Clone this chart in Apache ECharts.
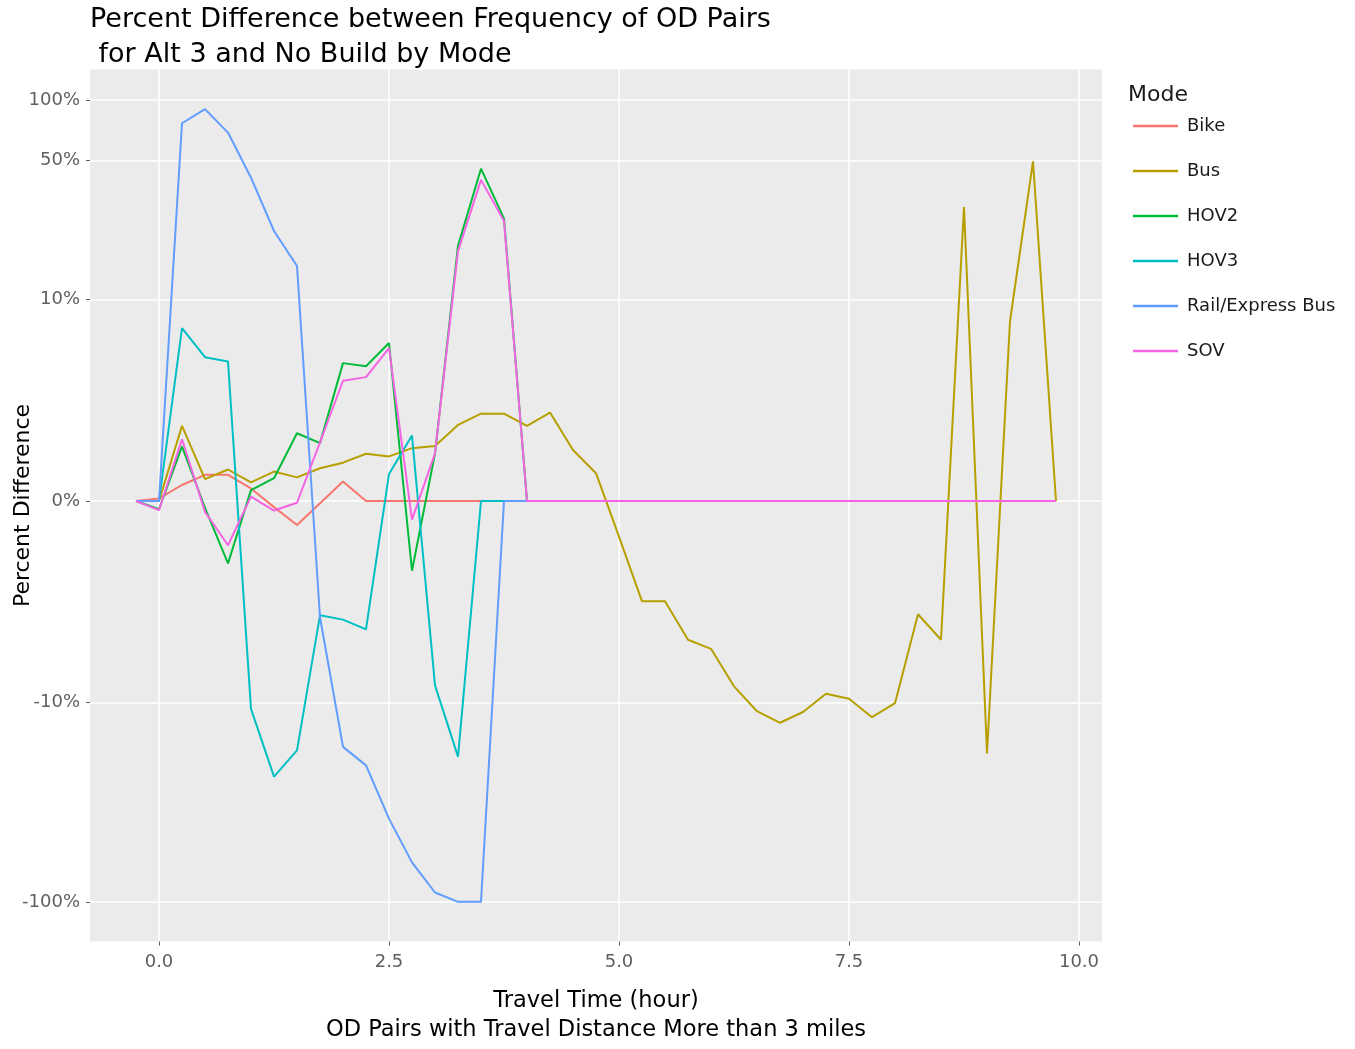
<!DOCTYPE html>
<html>
<head>
<meta charset="utf-8">
<title>Percent Difference by Mode</title>
<script src="https://cdn.jsdelivr.net/npm/echarts@6/dist/echarts.min.js"></script>
<style>
  html, body { margin: 0; padding: 0; background: #ffffff; }
  #chart { width: 1355px; height: 1049px; }
</style>
</head>
<body>
<div id="chart"></div>
<script>
// Travel time bins (hours)
const travelTime = [-0.25, 0, 0.25, 0.5, 0.75, 1.0, 1.25, 1.5, 1.75, 2.0,
  2.25, 2.5, 2.75, 3.0, 3.25, 3.5, 3.75, 4.0, 4.25, 4.5,
  4.75, 5.0, 5.25, 5.5, 5.75, 6.0, 6.25, 6.5, 6.75, 7.0,
  7.25, 7.5, 7.75, 8.0, 8.25, 8.5, 8.75, 9.0, 9.25, 9.5, 9.75];

// Percent difference (Alt 3 vs No Build) per mode, one value per bin
const bike = [0, 0.06, 0.37, 0.61, 0.61, 0.29, -0.14, -0.56, -0.05, 0.45,
  0, 0, 0, 0, 0, 0, 0, 0, 0, 0,
  0, 0, 0, 0, 0, 0, 0, 0, 0, 0,
  0, 0, 0, 0, 0, 0, 0, 0, 0, 0, 0];
const bus = [0, 0, 1.95, 0.51, 0.74, 0.43, 0.69, 0.55, 0.77, 0.91,
  1.14, 1.07, 1.29, 1.35, 1.98, 2.36, 2.36, 1.95, 2.40, 1.24,
  0.65, -0.84, -2.85, -2.85, -4.72, -5.28, -8.29, -11.1, -12.7, -11.2,
  -9.05, -9.6, -11.9, -10.1, -3.4, -4.72, 29.3, -18.1, 7.76, 49.5, 0];
const hov2 = [0, -0.19, 1.34, -0.16, -1.56, 0.25, 0.53, 1.72, 1.43, 4.67,
  4.49, 5.98, -1.78, 1.15, 18.7, 45.5, 25.6, 0, 0, 0,
  0, 0, 0, 0, 0, 0, 0, 0, 0, 0,
  0, 0, 0, 0, 0, 0, 0, 0, 0, 0, 0];
const hov3 = [0, 0, 7.16, 5.03, 4.77, -10.8, -23.7, -17.5, -3.45, -3.65,
  -4.14, 0.63, 1.65, -8.2, -18.8, 0, 0, 0, 0, 0,
  0, 0, 0, 0, 0, 0, 0, 0, 0, 0,
  0, 0, 0, 0, 0, 0, 0, 0, 0, 0, 0];
const railExpressBus = [0, 0, 76.7, 90.2, 68.9, 41.0, 22.2, 14.8, -3.54, -16.8,
  -20.8, -38.4, -63.5, -89.8, -100, -100, 0, 0, 0, 0,
  0, 0, 0, 0, 0, 0, 0, 0, 0, 0,
  0, 0, 0, 0, 0, 0, 0, 0, 0, 0, 0];
const sov = [0, -0.21, 1.54, -0.25, -1.06, 0.10, -0.22, -0.04, 1.45, 3.73,
  3.91, 5.62, -0.43, 1.15, 17.6, 40.0, 24.9, 0, 0, 0,
  0, 0, 0, 0, 0, 0, 0, 0, 0, 0,
  0, 0, 0, 0, 0, 0, 0, 0, 0, 0, 0];

const modes = ['Bike', 'Bus', 'HOV2', 'HOV3', 'Rail/Express Bus', 'SOV'];
const modeValues = [bike, bus, hov2, hov3, railExpressBus, sov];
const modeColors = ['#F8766D', '#B79F00', '#00BA38', '#00BFC4', '#619CFF', '#F564E3'];

const yTickValues = [-100, -10, 0, 10, 50, 100];
const yTickLabels = ['-100%', '-10%', '0%', '10%', '50%', '100%'];
const xTickValues = [0, 2.5, 5, 7.5, 10];
const xTickLabels = ['0.0', '2.5', '5.0', '7.5', '10.0'];

// Pseudo-log transform (sigma = 1, base 10), as used for the y scale
function pseudoLog(v) { return Math.asinh(v / 2) / Math.LN10; }

// Axis ranges with a 5% expansion on each side of the data
function expandedRange(lo, hi) {
  const pad = (hi - lo) * 0.05;
  return [lo - pad, hi + pad];
}
const allT = [].concat(...modeValues).map(pseudoLog);
const yRange = expandedRange(Math.min(...allT), Math.max(...allT));
const xRange = expandedRange(Math.min(...travelTime), Math.max(...travelTime));

const yTickPos = yTickValues.map(pseudoLog);
function yLabel(val) {
  let best = 0;
  yTickPos.forEach((p, i) => { if (Math.abs(p - val) < Math.abs(yTickPos[best] - val)) best = i; });
  return yTickLabels[best];
}
function xLabel(val) {
  let best = 0;
  xTickValues.forEach((p, i) => { if (Math.abs(p - val) < Math.abs(xTickValues[best] - val)) best = i; });
  return xTickLabels[best];
}

const FONT = 'DejaVu Sans';

const chart = echarts.init(document.getElementById('chart'), null, { renderer: 'canvas' });

chart.setOption({
  animation: false,
  backgroundColor: '#ffffff',
  title: [
    {
      text: 'Percent Difference between Frequency of OD Pairs\n for Alt 3 and No Build by Mode',
      left: 90,
      top: 2,
      padding: 0,
      textStyle: { fontFamily: FONT, fontSize: 27, fontWeight: 'normal', color: '#000000', lineHeight: 35 }
    },
    {
      text: 'Mode',
      left: 1128,
      top: 84,
      padding: 0,
      textStyle: { fontFamily: FONT, fontSize: 22, fontWeight: 'normal', color: '#1a1a1a' }
    }
  ],
  legend: {
    data: modes,
    orient: 'vertical',
    left: 1133,
    top: 116,
    padding: 0,
    icon: 'rect',
    itemWidth: 45,
    itemHeight: 2.5,
    itemGap: 25,
    textStyle: { fontFamily: FONT, fontSize: 18, color: '#1a1a1a', lineHeight: 20, padding: [0, 0, 0, 4] }
  },
  grid: {
    left: 90,
    right: 253,
    top: 69.5,
    bottom: 107.5,
    outerBoundsMode: 'none',
    containLabel: false,
    show: true,
    backgroundColor: '#EBEBEB',
    borderWidth: 0
  },
  xAxis: {
    type: 'value',
    min: xRange[0],
    max: xRange[1],
    name: 'Travel Time (hour)\nOD Pairs with Travel Distance More than 3 miles',
    nameLocation: 'middle',
    nameGap: 45,
    nameMoveOverlap: false,
    nameTextStyle: { fontFamily: FONT, fontSize: 22.5, color: '#000000', lineHeight: 29 },
    axisLine: { show: false, onZero: false },
    axisTick: { show: true, customValues: xTickValues, length: 4, lineStyle: { color: '#595959', width: 1 } },
    axisLabel: {
      customValues: xTickValues,
      formatter: xLabel,
      margin: 12,
      fontFamily: FONT,
      fontSize: 18,
      color: '#5f5f5f'
    },
    splitLine: { show: true, lineStyle: { color: '#ffffff', width: 1.5 } }
  },
  yAxis: {
    type: 'value',
    min: yRange[0],
    max: yRange[1],
    name: 'Percent Difference',
    nameLocation: 'middle',
    nameGap: 56,
    nameRotate: 90,
    nameMoveOverlap: false,
    nameTextStyle: { fontFamily: FONT, fontSize: 22, color: '#000000' },
    axisLine: { show: false, onZero: false },
    axisTick: { show: true, customValues: yTickPos, length: 4, lineStyle: { color: '#595959', width: 1 } },
    axisLabel: {
      customValues: yTickPos,
      formatter: yLabel,
      margin: 10,
      fontFamily: FONT,
      fontSize: 18,
      color: '#5f5f5f'
    },
    splitLine: { show: true, lineStyle: { color: '#ffffff', width: 1.5 } }
  },
  series: modes.map((name, i) => ({
    name: name,
    type: 'line',
    data: travelTime.map((t, j) => [t, pseudoLog(modeValues[i][j])]),
    showSymbol: false,
    symbol: 'none',
    color: modeColors[i],
    lineStyle: { color: modeColors[i], width: 2 },
    emphasis: { disabled: true },
    z: 2 + i
  }))
});
</script>
</body>
</html>
